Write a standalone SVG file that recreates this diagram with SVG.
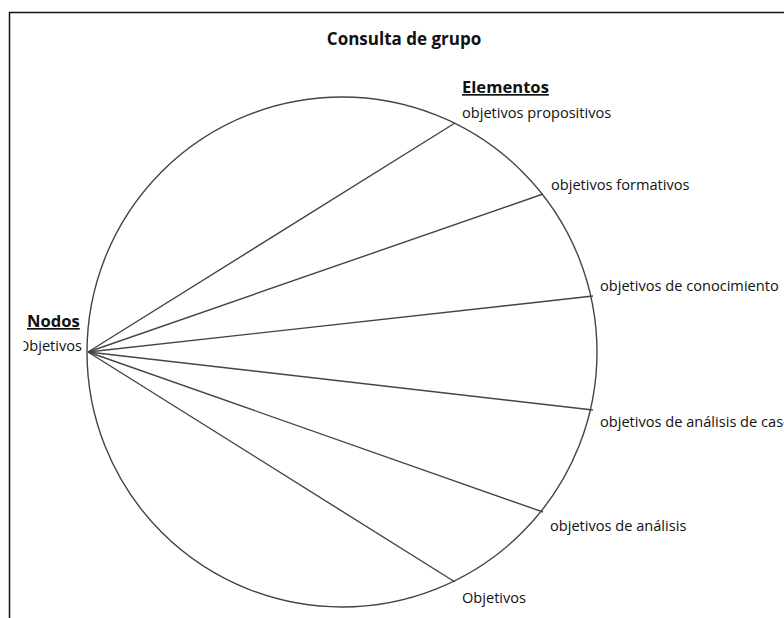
<svg xmlns="http://www.w3.org/2000/svg" width="784" height="618" viewBox="0 0 784 618">
<style>
text{font-family:"Open Sans","Noto Sans","Liberation Sans",sans-serif;fill:#111}
.lbl{font-size:14.6px}
.hd{font-size:16.6px;font-weight:bold;text-decoration:underline}
.title{font-size:17px;font-weight:bold}
.spoke{stroke:#444;stroke-width:1.4;fill:none}
</style>
<defs>
<clipPath id="leftclip"><rect x="23.5" y="0" width="200" height="618"/></clipPath>
</defs>
<rect x="0" y="0" width="784" height="618" fill="#fff"/>
<path d="M9.5 618 V12.5 H784" fill="none" stroke="#111" stroke-width="1.5"/>
<text class="title" x="404" y="45" text-anchor="middle">Consulta de grupo</text>
<g id="ring"><circle cx="342" cy="352" r="255" fill="none" stroke="#444" stroke-width="1.4"/></g>
<g id="connectors">
<line class="spoke" x1="88" y1="352" x2="455" y2="123"/>
<line class="spoke" x1="88" y1="352" x2="543" y2="194"/>
<line class="spoke" x1="88" y1="352" x2="593" y2="296"/>
<line class="spoke" x1="88" y1="352" x2="593" y2="410"/>
<line class="spoke" x1="88" y1="352" x2="543" y2="512"/>
<line class="spoke" x1="88" y1="352" x2="455" y2="582"/>
</g>
<g id="nodos">
<text class="hd" x="27" y="327">Nodos</text>
<text class="lbl" x="82" y="351" text-anchor="end" clip-path="url(#leftclip)">Objetivos</text>
</g>
<g id="elementos-header"><text class="hd" x="462" y="93">Elementos</text></g>
<g id="e1"><text class="lbl" x="462" y="118">objetivos propositivos</text></g>
<g id="e2"><text class="lbl" x="551" y="190">objetivos formativos</text></g>
<g id="e3"><text class="lbl" x="600" y="291">objetivos de conocimiento</text></g>
<g id="e4"><text class="lbl" x="600" y="427">objetivos de análisis de caso</text></g>
<g id="e5"><text class="lbl" x="550" y="531">objetivos de análisis</text></g>
<g id="e6"><text class="lbl" x="462" y="603">Objetivos</text></g>
</svg>
